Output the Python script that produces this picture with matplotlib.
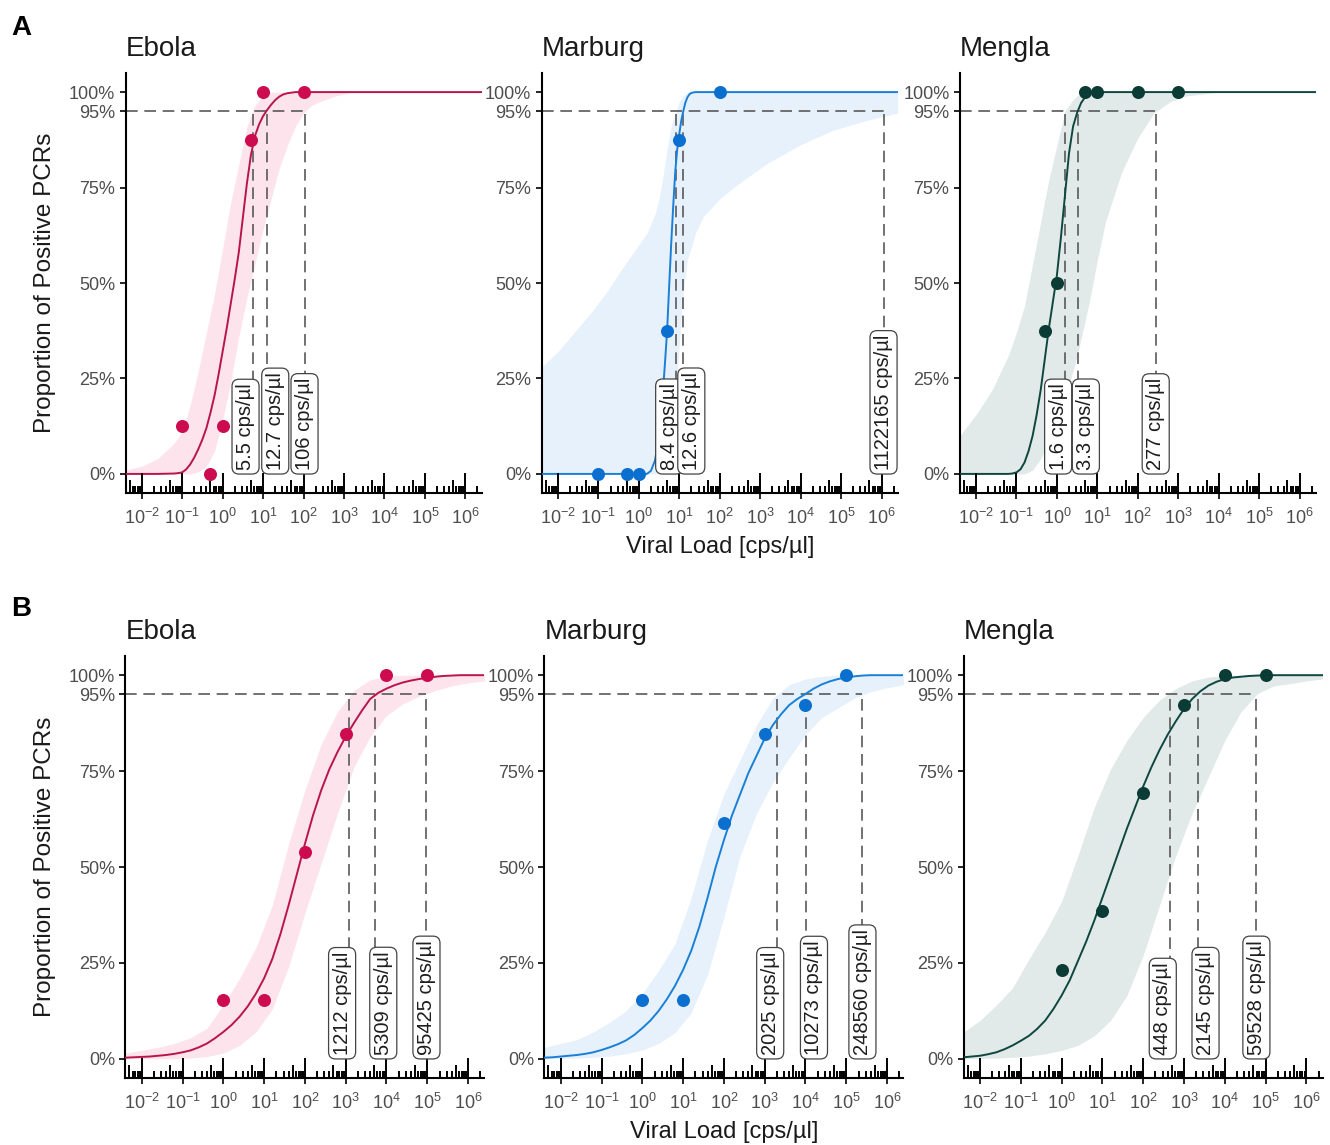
import matplotlib.pyplot as plt


plt.rcParams["font.family"] = ["Liberation Sans", "DejaVu Sans"]
plt.rcParams["mathtext.default"] = "regular"

# ---------------- data ----------------
VIRUSES = ["Ebola", "Marburg", "Mengla"]

# row A: observed proportions
A_EBOLA_X = [0.1, 0.5, 1, 5, 10, 100]
A_EBOLA_Y = [0.125, 0.0, 0.125, 0.875, 1.0, 1.0]
A_MARBURG_X = [0.1, 0.5, 1, 5, 10, 100]
A_MARBURG_Y = [0.0, 0.0, 0.0, 0.375, 0.875, 1.0]
A_MENGLA_X = [0.5, 1, 5, 10, 100, 1000]
A_MENGLA_Y = [0.375, 0.5, 1.0, 1.0, 1.0, 1.0]

# row A: fitted curves (log10 viral load -> proportion)
A_EBOLA_FIT_LOGX = [-2.4, -1.6, -1.2, -1.1, -1.0, -0.9, -0.8, -0.7, -0.6, -0.5, -0.4, -0.3, -0.2,
                    -0.1, 0.0, 0.1, 0.2, 0.3, 0.4, 0.5, 0.6, 0.7, 0.8, 0.9, 1.0, 1.1, 1.2, 1.3,
                    1.4, 1.5, 1.6, 1.8, 6.4]
A_EBOLA_FIT = [0, 0, 0.001, 0.002, 0.004, 0.012, 0.025, 0.043, 0.065, 0.09, 0.12, 0.16, 0.205,
               0.26, 0.32, 0.38, 0.445, 0.51, 0.58, 0.67, 0.76, 0.835, 0.885, 0.915, 0.937, 0.953,
               0.967, 0.979, 0.988, 0.994, 0.997, 1, 1]
A_MARBURG_FIT_LOGX = [-2.4, 0.2, 0.3, 0.4, 0.45, 0.5, 0.55, 0.6, 0.65, 0.7, 0.75, 0.8, 0.85, 0.9,
                      0.95, 1.0, 1.05, 1.1, 1.15, 1.2, 1.25, 1.3, 1.4, 6.4]
A_MARBURG_FIT = [0, 0, 0.008, 0.035, 0.065, 0.11, 0.16, 0.22, 0.295, 0.375, 0.49, 0.60, 0.70,
                 0.79, 0.85, 0.89, 0.925, 0.95, 0.972, 0.986, 0.994, 0.998, 1, 1]
A_MENGLA_FIT_LOGX = [-2.4, -1.2, -1.1, -1.0, -0.9, -0.8, -0.7, -0.6, -0.5, -0.4, -0.3, -0.2, -0.1,
                     0.0, 0.1, 0.2, 0.3, 0.4, 0.5, 0.6, 0.7, 0.8, 0.9, 1.0, 6.4]
A_MENGLA_FIT = [0, 0, 0.001, 0.004, 0.012, 0.03, 0.06, 0.10, 0.155, 0.22, 0.30, 0.38, 0.45,
                0.52, 0.62, 0.73, 0.84, 0.91, 0.946, 0.972, 0.987, 0.996, 0.999, 1, 1]

# row A: confidence bands
A_EBOLA_BAND_LOGX = [-2.4, -2.0, -1.6, -1.2, -1.0, -0.8, -0.6, -0.4, -0.2, 0.0, 0.2, 0.4, 0.6,
                     0.8, 1.0, 1.2, 1.4, 1.6, 1.8, 2.0, 2.2, 2.4, 2.8, 3.2, 4.0, 6.4]
A_EBOLA_LOW = [0, 0, 0, 0, 0, 0, 0.005, 0.02, 0.06, 0.14, 0.24, 0.36, 0.46,
               0.55, 0.64, 0.72, 0.80, 0.86, 0.91, 0.945, 0.965, 0.975, 0.99, 1, 1, 1]
A_EBOLA_HIGH = [0.01, 0.02, 0.04, 0.08, 0.11, 0.18, 0.27, 0.37, 0.47, 0.59, 0.71, 0.81, 0.91,
                0.965, 0.99, 1, 1, 1, 1, 1, 1, 1, 1, 1, 1, 1]

A_MARBURG_BAND_LOGX = [-2.4, -2.0, -1.6, -1.2, -0.8, -0.4, 0.0, 0.2, 0.4, 0.5, 0.6, 0.7, 0.8, 0.9,
                       1.0, 1.1, 1.2, 1.4, 1.6, 2.0, 2.4, 3.2, 4.0, 4.8, 5.6, 6.0, 6.4]
A_MARBURG_LOW = [0, 0, 0, 0, 0, 0, 0, 0, 0, 0, 0, 0.005, 0.04, 0.16,
                 0.34, 0.48, 0.56, 0.63, 0.675, 0.72, 0.755, 0.815, 0.862, 0.90, 0.925, 0.935, 0.945]
A_MARBURG_HIGH = [0.28, 0.32, 0.37, 0.42, 0.475, 0.54, 0.60, 0.63, 0.68, 0.72, 0.78, 0.85, 0.91, 0.945,
                  0.975, 0.99, 1, 1, 1, 1, 1, 1, 1, 1, 1, 1, 1]

A_MENGLA_BAND_LOGX = [-2.4, -2.0, -1.6, -1.2, -1.0, -0.8, -0.6, -0.4, -0.2, 0.0, 0.2, 0.4,
                      0.5, 0.6, 0.8, 1.0, 1.2, 1.6, 2.0, 2.4, 2.8, 3.2, 4.0, 6.4]
A_MENGLA_LOW = [0, 0, 0, 0, 0, 0, 0.01, 0.04, 0.085, 0.14, 0.20, 0.27,
                0.31, 0.355, 0.45, 0.56, 0.66, 0.79, 0.88, 0.945, 0.975, 0.99, 1, 1]
A_MENGLA_HIGH = [0.10, 0.155, 0.22, 0.31, 0.37, 0.44, 0.55, 0.66, 0.77, 0.86, 0.95, 0.98,
                 0.99, 0.995, 1, 1, 1, 1, 1, 1, 1, 1, 1, 1]

# row A: 95 % limit of detection with its interval [cps/ul]
A_EBOLA_LOD = [5.5, 12.7, 106]
A_MARBURG_LOD = [8.4, 12.6, 1122165]
A_MENGLA_LOD = [1.6, 3.3, 277]

# row B: observed proportions
B_EBOLA_X = [1, 10, 100, 1000, 1e4, 1e5]
B_EBOLA_Y = [0.154, 0.154, 0.538, 0.846, 1.0, 1.0]
B_MARBURG_X = [1, 10, 100, 1000, 1e4, 1e5]
B_MARBURG_Y = [0.154, 0.154, 0.615, 0.846, 0.923, 1.0]
B_MENGLA_X = [1, 10, 100, 1000, 1e4, 1e5]
B_MENGLA_Y = [0.231, 0.385, 0.692, 0.923, 1.0, 1.0]

# row B: fitted curves
B_FIT_LOGX = [-2.4, -2.2, -2.0, -1.8, -1.6, -1.4, -1.2, -1.0, -0.8, -0.6, -0.4, -0.2, 0.0,
              0.2, 0.4, 0.6, 0.8, 1.0, 1.2, 1.4, 1.6, 1.8, 2.0, 2.2, 2.4, 2.6, 2.8, 3.0,
              3.2, 3.4, 3.6, 3.8, 4.0, 4.2, 4.4, 4.6, 4.8, 5.0, 5.2, 5.4, 5.6, 5.8, 6.0,
              6.2, 6.4]
B_EBOLA_FIT = [0.003, 0.004, 0.005, 0.006, 0.008, 0.010, 0.013, 0.017, 0.022, 0.03, 0.04, 0.054,
               0.07, 0.088, 0.11, 0.137, 0.17, 0.21, 0.26, 0.325, 0.40, 0.48, 0.56, 0.635,
               0.70, 0.755, 0.80, 0.84, 0.875, 0.908, 0.938, 0.954, 0.965, 0.974, 0.981, 0.986,
               0.99, 0.993, 0.996, 0.998, 0.999, 1, 1, 1, 1]
B_MARBURG_FIT = [0.003, 0.004, 0.006, 0.008, 0.01, 0.013, 0.017, 0.023, 0.03, 0.038, 0.048, 0.062,
                 0.08, 0.10, 0.125, 0.155, 0.19, 0.232, 0.282, 0.345, 0.42, 0.50, 0.57, 0.635,
                 0.69, 0.745, 0.79, 0.835, 0.87, 0.898, 0.922, 0.938, 0.951, 0.965, 0.976, 0.984,
                 0.99, 0.994, 0.997, 0.999, 1, 1, 1, 1, 1]
B_MENGLA_FIT = [0.004, 0.006, 0.008, 0.012, 0.017, 0.025, 0.035, 0.047, 0.06, 0.078, 0.10, 0.13,
                0.165, 0.205, 0.255, 0.305, 0.36, 0.42, 0.48, 0.54, 0.60, 0.655, 0.71, 0.76,
                0.805, 0.845, 0.88, 0.912, 0.938, 0.958, 0.973, 0.983, 0.99, 0.994, 0.996, 0.998,
                0.999, 1, 1, 1, 1, 1, 1, 1, 1]

# row B: confidence bands
B_BAND_LOGX = [-2.4, -2.0, -1.6, -1.2, -0.8, -0.4, 0.0, 0.4, 0.8, 1.2, 1.6, 2.0,
               2.4, 2.8, 3.2, 3.6, 4.0, 4.4, 4.8, 5.2, 5.6, 6.0, 6.4]
B_EBOLA_LOW = [0, 0, 0, 0, 0.002, 0.006, 0.015, 0.035, 0.07, 0.13, 0.24, 0.38,
               0.51, 0.64, 0.76, 0.84, 0.895, 0.925, 0.945, 0.96, 0.972, 0.98, 0.985]
B_EBOLA_HIGH = [0.015, 0.022, 0.03, 0.04, 0.055, 0.08, 0.14, 0.21, 0.29, 0.40, 0.56, 0.70,
                0.82, 0.905, 0.96, 0.988, 0.997, 1, 1, 1, 1, 1, 1]
B_MARBURG_LOW = [0, 0.001, 0.002, 0.004, 0.007, 0.013, 0.023, 0.04, 0.068, 0.12, 0.22, 0.37,
                 0.53, 0.64, 0.72, 0.785, 0.845, 0.89, 0.915, 0.94, 0.957, 0.967, 0.975]
B_MARBURG_HIGH = [0.03, 0.04, 0.05, 0.07, 0.095, 0.125, 0.17, 0.23, 0.30, 0.42, 0.57, 0.69,
                  0.78, 0.87, 0.94, 0.975, 0.99, 0.997, 1, 1, 1, 1, 1]
B_MENGLA_LOW = [0, 0.001, 0.002, 0.004, 0.007, 0.013, 0.022, 0.035, 0.06, 0.10, 0.165, 0.27,
                0.40, 0.53, 0.64, 0.735, 0.83, 0.905, 0.952, 0.972, 0.978, 0.985, 0.99]
B_MENGLA_HIGH = [0.07, 0.10, 0.14, 0.185, 0.26, 0.33, 0.41, 0.53, 0.655, 0.755, 0.83, 0.89,
                 0.935, 0.965, 0.985, 0.995, 1, 1, 1, 1, 1, 1, 1]

B_EBOLA_LOD = [1212, 5309, 95425]
B_MARBURG_LOD = [2025, 10273, 248560]
B_MENGLA_LOD = [448, 2145, 59528]

Y_TICKS = [0, 0.25, 0.5, 0.75, 0.95, 1.0]
Y_TICKLABELS = ["0%", "25%", "50%", "75%", "95%", "100%"]
X_DECADES = [-2, -1, 0, 1, 2, 3, 4, 5, 6]

# ---------------- styles / layout ----------------
POINT_COLORS = ["#cc0c4f", "#0b6fcf", "#0a3c35"]
LINE_COLORS = ["#b8154d", "#1a7fd6", "#0e4740"]
FILL_COLORS = ["#fde3eb", "#e6f1fc", "#e1e9e9"]
DASH_COLOR = "#595959"

FIG_W, FIG_H = 1330, 1145
ROW_LEFTS = [[125.5, 541.7, 959.8], [125.4, 544.4, 963.7]]
ROW_WIDTH = [356, 359]
ROW_TOP = [73, 656]
ROW_HEIGHT = [420, 422]
LABEL_NUDGE_PX = [-7, 8, 0]
LOG_XLIM = (-2.4, 6.4)


def px_rect(left, top, width, height):
    return [left / FIG_W, 1 - (top + height) / FIG_H, width / FIG_W, height / FIG_H]


def lod_text(v):
    return f"{v:.0f} cps/µl" if v >= 100 else f"{v:.1f} cps/µl"


def add_logticks(ax, height_px):
    trans = ax.get_xaxis_transform()
    xs, hs = [], []
    for k in range(-3, 7):
        for m in range(1, 10):
            x = m * 10.0 ** k
            if 10 ** LOG_XLIM[0] <= x <= 10 ** LOG_XLIM[1]:
                xs.append(x)
                hs.append(20 if m == 1 else (13 if m == 5 else 7))
    ax.vlines(xs, 0, [h / height_px for h in hs], transform=trans,
              colors="black", linewidth=1.4, zorder=3, clip_on=False)


def draw_panel(ax, i, pts_x, pts_y, fit_logx, fit, band_logx, low, high, lods, height_px):
    band_x = [10 ** t for t in band_logx]
    ax.fill_between(band_x, low, high, color=FILL_COLORS[i], linewidth=0, zorder=1)

    # 95% guide lines
    xmin = 10 ** LOG_XLIM[0]
    ax.plot([xmin, max(lods)], [0.95, 0.95], color=DASH_COLOR, lw=1.2,
            linestyle=(0, (7, 4)), zorder=2)
    for v in lods:
        ax.plot([v, v], [0, 0.95], color=DASH_COLOR, lw=1.2,
                linestyle=(0, (7, 4)), zorder=2)

    ax.plot([10 ** t for t in fit_logx], fit, color=LINE_COLORS[i], lw=1.4, zorder=3)
    ax.scatter(pts_x, pts_y, s=88, color=POINT_COLORS[i], linewidths=0, zorder=4,
               clip_on=False)

    for v, dx in zip(lods, LABEL_NUDGE_PX):
        ax.annotate(lod_text(v), xy=(v, 0), xycoords="data",
                    xytext=(dx * 0.72, 2.8), textcoords="offset points",
                    rotation=90, ha="center", va="bottom", fontsize=14.5,
                    color="#1e1e1e", zorder=6, annotation_clip=False,
                    bbox=dict(boxstyle="round,pad=0.2,rounding_size=0.35",
                              fc="white", ec="#444444", lw=0.9))

    ax.set_xscale("log")
    ax.set_xlim(10 ** LOG_XLIM[0], 10 ** LOG_XLIM[1])
    ax.set_ylim(-0.05, 1.05)
    ax.set_xticks([10.0 ** k for k in X_DECADES])
    ax.set_xticklabels([f"$10^{{{k}}}$" for k in X_DECADES])
    ax.xaxis.set_minor_locator(plt.NullLocator())
    ax.set_yticks(Y_TICKS)
    ax.set_yticklabels(Y_TICKLABELS)

    for side in ["top", "right"]:
        ax.spines[side].set_visible(False)
    for side in ["left", "bottom"]:
        ax.spines[side].set_linewidth(1.5)
    ax.tick_params(axis="both", which="major", direction="out", length=4.5, width=1.2,
                   color="black", labelcolor="#4d4d4d", labelsize=13, pad=3)
    ax.tick_params(axis="x", pad=6)
    add_logticks(ax, height_px)
    ax.set_title(VIRUSES[i], loc="left", fontsize=20, pad=12, color="#1a1a1a")


def main():
    fig = plt.figure(figsize=(FIG_W / 100, FIG_H / 100), dpi=100)

    rows = [
        [(A_EBOLA_X, A_EBOLA_Y, A_EBOLA_FIT_LOGX, A_EBOLA_FIT,
          A_EBOLA_BAND_LOGX, A_EBOLA_LOW, A_EBOLA_HIGH, A_EBOLA_LOD),
         (A_MARBURG_X, A_MARBURG_Y, A_MARBURG_FIT_LOGX, A_MARBURG_FIT,
          A_MARBURG_BAND_LOGX, A_MARBURG_LOW, A_MARBURG_HIGH, A_MARBURG_LOD),
         (A_MENGLA_X, A_MENGLA_Y, A_MENGLA_FIT_LOGX, A_MENGLA_FIT,
          A_MENGLA_BAND_LOGX, A_MENGLA_LOW, A_MENGLA_HIGH, A_MENGLA_LOD)],
        [(B_EBOLA_X, B_EBOLA_Y, B_FIT_LOGX, B_EBOLA_FIT,
          B_BAND_LOGX, B_EBOLA_LOW, B_EBOLA_HIGH, B_EBOLA_LOD),
         (B_MARBURG_X, B_MARBURG_Y, B_FIT_LOGX, B_MARBURG_FIT,
          B_BAND_LOGX, B_MARBURG_LOW, B_MARBURG_HIGH, B_MARBURG_LOD),
         (B_MENGLA_X, B_MENGLA_Y, B_FIT_LOGX, B_MENGLA_FIT,
          B_BAND_LOGX, B_MENGLA_LOW, B_MENGLA_HIGH, B_MENGLA_LOD)],
    ]

    for r, panels in enumerate(rows):
        for i, p in enumerate(panels):
            ax = fig.add_axes(px_rect(ROW_LEFTS[r][i], ROW_TOP[r], ROW_WIDTH[r], ROW_HEIGHT[r]))
            draw_panel(ax, i, *p, height_px=ROW_HEIGHT[r])

        # shared axis titles
        mid_x = (ROW_LEFTS[r][1] + ROW_WIDTH[r] / 2) / FIG_W
        fig.text(mid_x, 1 - (ROW_TOP[r] + ROW_HEIGHT[r] + 60) / FIG_H, "Viral Load [cps/µl]",
                 ha="center", va="baseline", fontsize=17, color="#1a1a1a")
        fig.text(45 / FIG_W, 1 - (ROW_TOP[r] + ROW_HEIGHT[r] / 2) / FIG_H,
                 "Proportion of Positive PCRs", rotation=90, ha="center", va="center",
                 fontsize=17.5, color="#1a1a1a")

    fig.text(11 / FIG_W, 1 - 35 / FIG_H, "A", fontsize=20, fontweight="bold", va="baseline")
    fig.text(11 / FIG_W, 1 - 616 / FIG_H, "B", fontsize=20, fontweight="bold", va="baseline")

    fig.savefig("out.png", dpi=100)


if __name__ == "__main__":
    main()
